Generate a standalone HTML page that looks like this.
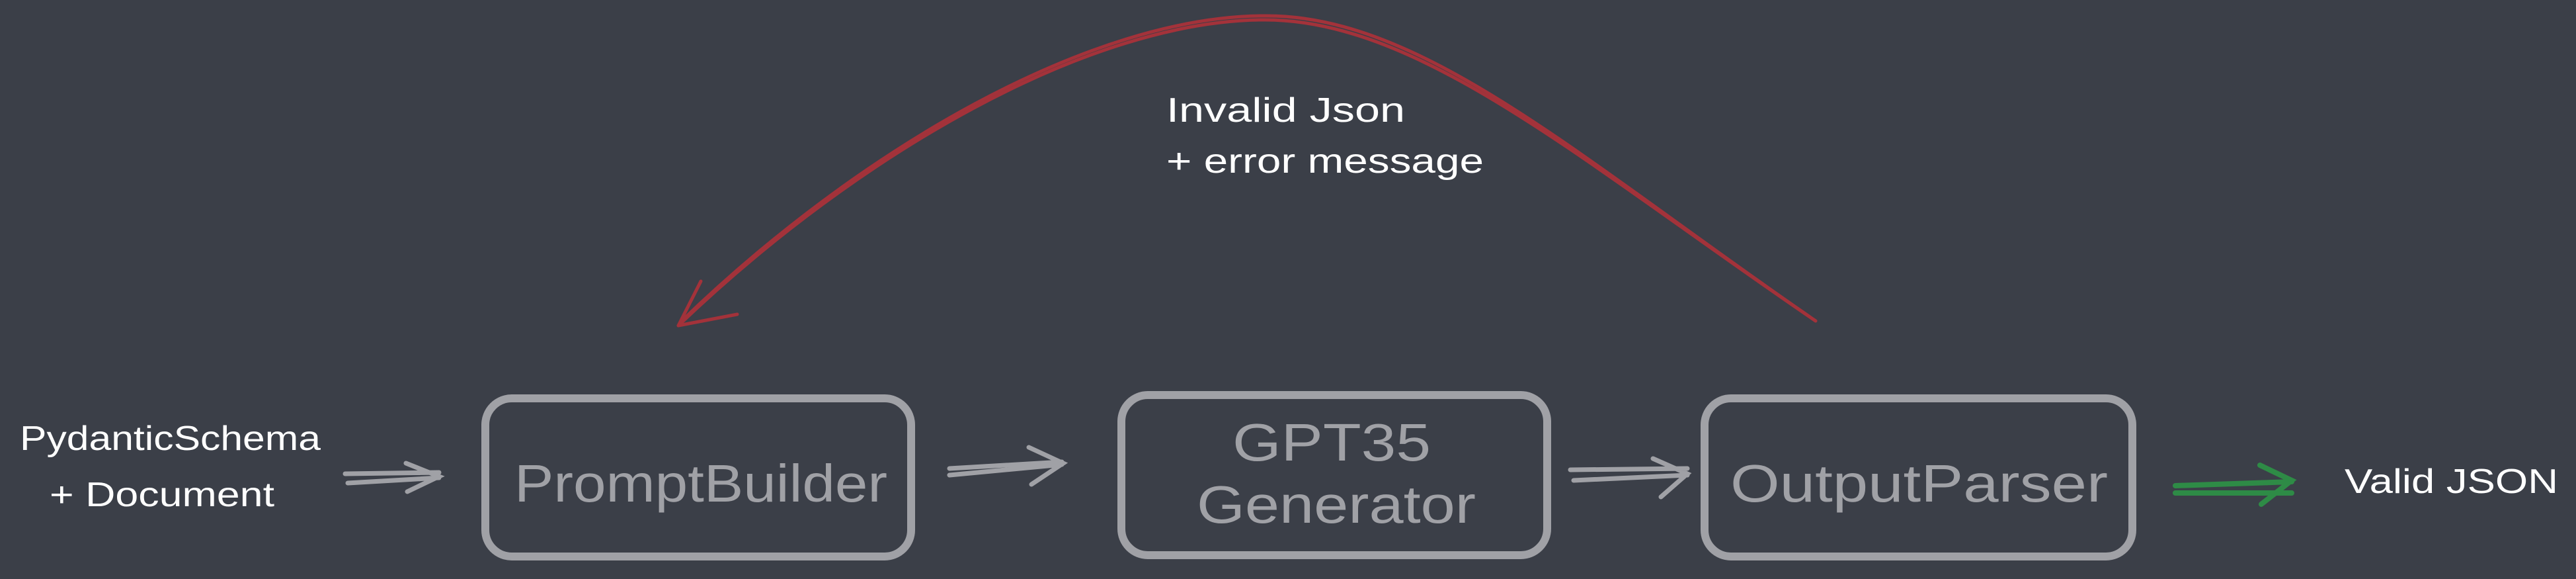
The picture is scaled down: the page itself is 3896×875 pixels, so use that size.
<!DOCTYPE html>
<html><head><meta charset="utf-8"><style>
html,body{margin:0;padding:0;background:#3b3f48;width:3896px;height:875px;overflow:hidden}
svg{display:block}
text{font-family:"Liberation Sans",sans-serif}
</style></head><body>
<svg width="3896" height="875" viewBox="0 0 3896 875" xmlns="http://www.w3.org/2000/svg">
<rect width="3896" height="875" fill="#3b3f48"/>
<g fill="none" stroke="#a0a1a6" stroke-width="12" stroke-linecap="round">
<rect x="734" y="602" width="644" height="239" rx="40"/>
<rect x="1696" y="597" width="644" height="242" rx="40"/>
<rect x="2578" y="602" width="647" height="239" rx="40"/>
</g>
<g fill="#a0a1a6" font-size="80">
<text x="778" y="758" textLength="564" lengthAdjust="spacingAndGlyphs">PromptBuilder</text>
<text x="1864" y="696" textLength="300" lengthAdjust="spacingAndGlyphs">GPT35</text>
<text x="1810" y="790" textLength="422" lengthAdjust="spacingAndGlyphs">Generator</text>
<text x="2617" y="758" textLength="571" lengthAdjust="spacingAndGlyphs">OutputParser</text>
</g>
<g fill="#ffffff" font-size="52">
<text x="30" y="680" textLength="455" lengthAdjust="spacingAndGlyphs">PydanticSchema</text>
<text x="75" y="765" textLength="340" lengthAdjust="spacingAndGlyphs">+ Document</text>
<text x="1764" y="184" textLength="361" lengthAdjust="spacingAndGlyphs">Invalid Json</text>
<text x="1764" y="261" textLength="480" lengthAdjust="spacingAndGlyphs">+ error message</text>
<text x="3546" y="745" textLength="323" lengthAdjust="spacingAndGlyphs">Valid JSON</text>
</g>
<g fill="none" stroke="#a0a1a6" stroke-width="7" stroke-linecap="round">
<path d="M522 716 L664 714 M526 730 L664 722 M614 700 L664 720 L616 743"/>
<path d="M1436 708 L1606 698 M1436 718 L1606 702 M1556 676 L1608 700 L1560 732"/>
<path d="M2375 710 L2552 708 M2380 726 L2552 718 M2500 693 L2552 716 L2512 751"/>
</g>
<g fill="none" stroke="#2e8b46" stroke-width="8" stroke-linecap="round">
<path d="M3290 734 L3466 728 M3290 745 L3466 745 M3418 703 L3466 726 L3420 762"/>
</g>
<g fill="none" stroke="#a3323a" stroke-width="5" stroke-linecap="round">
<path d="M2746 485 C2400 250 2150 30 1913 30 C1650 30 1300 230 1026 492"/>
<path d="M2736 478 C2390 240 2150 22 1913 24 C1650 24 1300 225 1030 486"/>
<path d="M1026 492 L1060 425 M1026 492 L1115 475"/>
</g>
</svg>
</body></html>
